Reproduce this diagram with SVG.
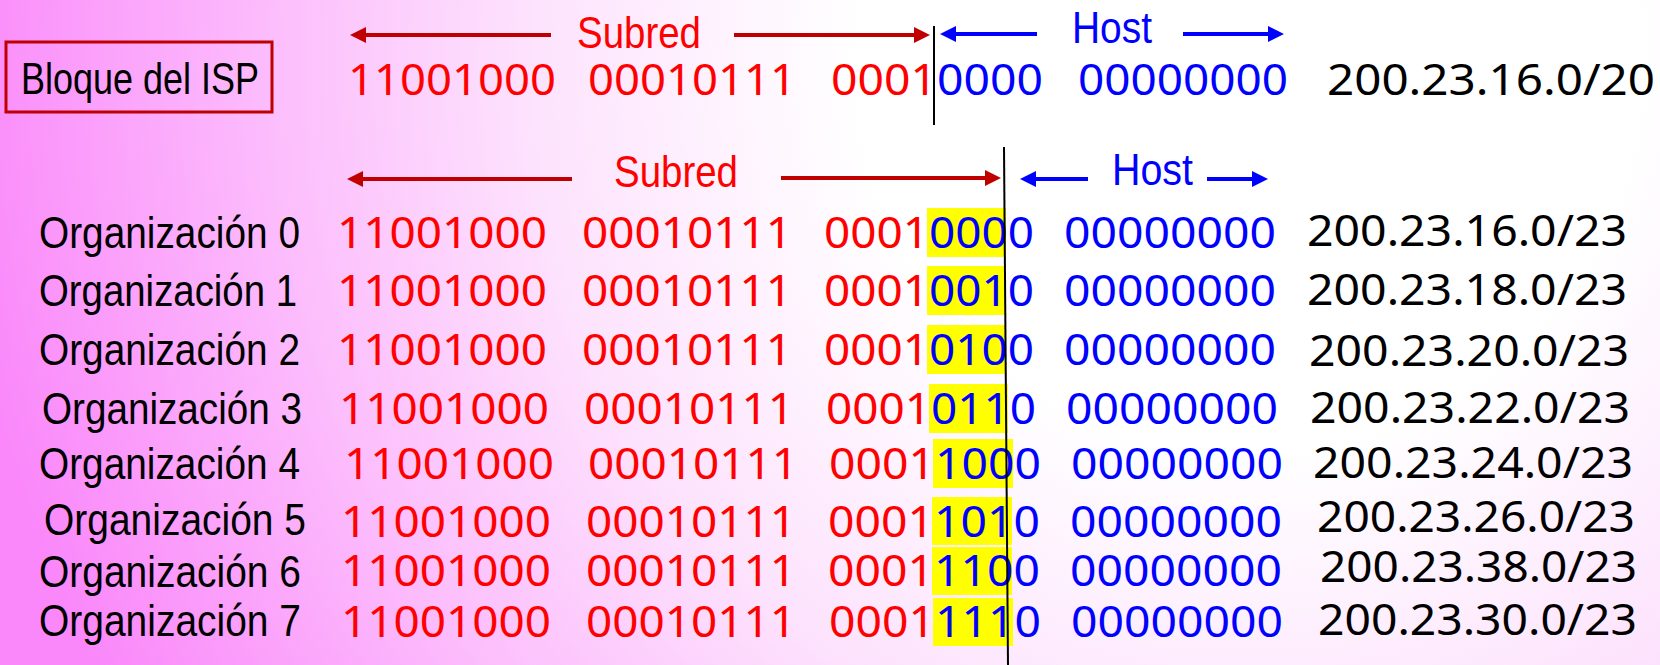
<svg xmlns="http://www.w3.org/2000/svg" width="1660" height="665" viewBox="0 0 1660 665">
<style>
.lbl{font-family:"Liberation Sans",Arial,sans-serif;font-size:45px;fill:#000}
.hdr{font-family:"Liberation Sans",Arial,sans-serif;font-size:45px}
.bin{font-family:"Noto Sans","Open Sans",sans-serif;font-size:43px}
.ip{font-family:"Noto Sans","Open Sans",sans-serif;font-size:43px;fill:#000}
.r{fill:#ff0000}.b{fill:#0000ff}
.hl{fill:#ffff00}
.ra{stroke:#c00000;stroke-width:4;fill:none}
.ba{stroke:#0000ff;stroke-width:4;fill:none}
.sep{stroke:#000;stroke-width:2}
</style>
<defs>
<radialGradient id="bg" gradientUnits="userSpaceOnUse" cx="1250" cy="60" r="1300">
<stop offset="0" stop-color="#ffffff"/>
<stop offset="0.3" stop-color="#ffffff"/>
<stop offset="0.55" stop-color="#fde3fd"/>
<stop offset="0.75" stop-color="#fcbefc"/>
<stop offset="1" stop-color="#fa88fa"/>
</radialGradient>
<marker id="mr" markerUnits="userSpaceOnUse" markerWidth="18" markerHeight="16" refX="2" refY="8" orient="auto"><path d="M0,0 L16,8 L0,16 z" fill="#c00000"/></marker>
<marker id="mb" markerUnits="userSpaceOnUse" markerWidth="18" markerHeight="16" refX="2" refY="8" orient="auto"><path d="M0,0 L16,8 L0,16 z" fill="#0000ff"/></marker>
</defs>
<rect width="1660" height="665" fill="url(#bg)"/>

<g id="isp-block">
<rect x="6" y="42" width="266" height="70" fill="none" stroke="#c00000" stroke-width="3"/>
<text class="lbl" x="21" y="94" font-size="43" textLength="238" lengthAdjust="spacingAndGlyphs">Bloque del ISP</text>
</g>

<g id="top-header">
<text class="hdr r" x="577" y="48" textLength="124" lengthAdjust="spacingAndGlyphs">Subred</text>
<text class="hdr b" x="1072" y="43" textLength="80" lengthAdjust="spacingAndGlyphs">Host</text>
</g>

<g id="top-row">
<text class="bin r" x="348" y="95" textLength="208" lengthAdjust="spacingAndGlyphs">11001000</text>
<text class="bin r" x="588" y="95" textLength="208" lengthAdjust="spacingAndGlyphs">00010111</text>
<text class="bin" x="831" y="95" textLength="212" lengthAdjust="spacingAndGlyphs"><tspan class="r">0001</tspan><tspan class="b">0000</tspan></text>
<text class="bin b" x="1078" y="95" textLength="210" lengthAdjust="spacingAndGlyphs">00000000</text>
<text class="ip" x="1327" y="95" textLength="328" lengthAdjust="spacingAndGlyphs">200.23.16.0/20</text>
</g>

<g id="bottom-header">
<text class="hdr r" x="614" y="187" textLength="124" lengthAdjust="spacingAndGlyphs">Subred</text>
<text class="hdr b" x="1112" y="185" textLength="81" lengthAdjust="spacingAndGlyphs">Host</text>
</g>

<g id="highlights">
<rect class="hl" x="927" y="208" width="79" height="49"/>
<rect class="hl" x="927" y="266" width="79" height="49"/>
<rect class="hl" x="927" y="325" width="79" height="49"/>
<rect class="hl" x="929" y="384" width="79" height="49"/>
<rect class="hl" x="933" y="439" width="80" height="49"/>
<rect class="hl" x="932" y="497" width="80" height="48"/>
<rect class="hl" x="932" y="547" width="80" height="48"/>
<rect class="hl" x="933" y="598" width="80" height="48"/>
</g>

<g id="org0">
<text class="lbl" x="39" y="248" textLength="261" lengthAdjust="spacingAndGlyphs">Organización 0</text>
<text class="bin r" x="337" y="248" textLength="210" lengthAdjust="spacingAndGlyphs">11001000</text>
<text class="bin r" x="582" y="248" textLength="210" lengthAdjust="spacingAndGlyphs">00010111</text>
<text class="bin" x="824" y="248" textLength="210" lengthAdjust="spacingAndGlyphs"><tspan class="r">0001</tspan><tspan class="b">0000</tspan></text>
<text class="bin b" x="1064" y="248" textLength="212" lengthAdjust="spacingAndGlyphs">00000000</text>
<text class="ip" x="1307" y="246" textLength="320" lengthAdjust="spacingAndGlyphs">200.23.16.0/23</text>
</g>
<g id="org1">
<text class="lbl" x="39" y="306" textLength="258" lengthAdjust="spacingAndGlyphs">Organización 1</text>
<text class="bin r" x="337" y="306" textLength="210" lengthAdjust="spacingAndGlyphs">11001000</text>
<text class="bin r" x="582" y="306" textLength="210" lengthAdjust="spacingAndGlyphs">00010111</text>
<text class="bin" x="824" y="306" textLength="210" lengthAdjust="spacingAndGlyphs"><tspan class="r">0001</tspan><tspan class="b">0010</tspan></text>
<text class="bin b" x="1064" y="306" textLength="212" lengthAdjust="spacingAndGlyphs">00000000</text>
<text class="ip" x="1307" y="305" textLength="320" lengthAdjust="spacingAndGlyphs">200.23.18.0/23</text>
</g>
<g id="org2">
<text class="lbl" x="39" y="365" textLength="261" lengthAdjust="spacingAndGlyphs">Organización 2</text>
<text class="bin r" x="337" y="365" textLength="210" lengthAdjust="spacingAndGlyphs">11001000</text>
<text class="bin r" x="582" y="365" textLength="210" lengthAdjust="spacingAndGlyphs">00010111</text>
<text class="bin" x="824" y="365" textLength="210" lengthAdjust="spacingAndGlyphs"><tspan class="r">0001</tspan><tspan class="b">0100</tspan></text>
<text class="bin b" x="1064" y="365" textLength="212" lengthAdjust="spacingAndGlyphs">00000000</text>
<text class="ip" x="1309" y="366" textLength="320" lengthAdjust="spacingAndGlyphs">200.23.20.0/23</text>
</g>
<g id="org3">
<text class="lbl" x="42" y="424" textLength="260" lengthAdjust="spacingAndGlyphs">Organización 3</text>
<text class="bin r" x="339" y="424" textLength="210" lengthAdjust="spacingAndGlyphs">11001000</text>
<text class="bin r" x="584" y="424" textLength="210" lengthAdjust="spacingAndGlyphs">00010111</text>
<text class="bin" x="826" y="424" textLength="210" lengthAdjust="spacingAndGlyphs"><tspan class="r">0001</tspan><tspan class="b">0110</tspan></text>
<text class="bin b" x="1066" y="424" textLength="212" lengthAdjust="spacingAndGlyphs">00000000</text>
<text class="ip" x="1310" y="423" textLength="320" lengthAdjust="spacingAndGlyphs">200.23.22.0/23</text>
</g>
<g id="org4">
<text class="lbl" x="39" y="479" textLength="261" lengthAdjust="spacingAndGlyphs">Organización 4</text>
<text class="bin r" x="344" y="479" textLength="210" lengthAdjust="spacingAndGlyphs">11001000</text>
<text class="bin r" x="588" y="479" textLength="210" lengthAdjust="spacingAndGlyphs">00010111</text>
<text class="bin" x="829" y="479" textLength="212" lengthAdjust="spacingAndGlyphs"><tspan class="r">0001</tspan><tspan class="b">1000</tspan></text>
<text class="bin b" x="1071" y="479" textLength="212" lengthAdjust="spacingAndGlyphs">00000000</text>
<text class="ip" x="1313" y="478" textLength="320" lengthAdjust="spacingAndGlyphs">200.23.24.0/23</text>
</g>
<g id="org5">
<text class="lbl" x="44" y="535" textLength="262" lengthAdjust="spacingAndGlyphs">Organización 5</text>
<text class="bin r" x="341" y="537" textLength="210" lengthAdjust="spacingAndGlyphs">11001000</text>
<text class="bin r" x="586" y="537" textLength="210" lengthAdjust="spacingAndGlyphs">00010111</text>
<text class="bin" x="828" y="537" textLength="212" lengthAdjust="spacingAndGlyphs"><tspan class="r">0001</tspan><tspan class="b">1010</tspan></text>
<text class="bin b" x="1070" y="537" textLength="212" lengthAdjust="spacingAndGlyphs">00000000</text>
<text class="ip" x="1317" y="532" textLength="318" lengthAdjust="spacingAndGlyphs">200.23.26.0/23</text>
</g>
<g id="org6">
<text class="lbl" x="39" y="587" textLength="262" lengthAdjust="spacingAndGlyphs">Organización 6</text>
<text class="bin r" x="341" y="586" textLength="210" lengthAdjust="spacingAndGlyphs">11001000</text>
<text class="bin r" x="586" y="586" textLength="210" lengthAdjust="spacingAndGlyphs">00010111</text>
<text class="bin" x="828" y="586" textLength="212" lengthAdjust="spacingAndGlyphs"><tspan class="r">0001</tspan><tspan class="b">1100</tspan></text>
<text class="bin b" x="1070" y="586" textLength="212" lengthAdjust="spacingAndGlyphs">00000000</text>
<text class="ip" x="1320" y="582" textLength="317" lengthAdjust="spacingAndGlyphs">200.23.38.0/23</text>
</g>
<g id="org7">
<text class="lbl" x="39" y="636" textLength="262" lengthAdjust="spacingAndGlyphs">Organización 7</text>
<text class="bin r" x="341" y="637" textLength="210" lengthAdjust="spacingAndGlyphs">11001000</text>
<text class="bin r" x="586" y="637" textLength="210" lengthAdjust="spacingAndGlyphs">00010111</text>
<text class="bin" x="829" y="637" textLength="212" lengthAdjust="spacingAndGlyphs"><tspan class="r">0001</tspan><tspan class="b">1110</tspan></text>
<text class="bin b" x="1071" y="637" textLength="212" lengthAdjust="spacingAndGlyphs">00000000</text>
<text class="ip" x="1318" y="635" textLength="319" lengthAdjust="spacingAndGlyphs">200.23.30.0/23</text>
</g>

<g id="connectors">
<line class="sep" x1="934" y1="26" x2="934" y2="125"/>
<line class="sep" x1="1004" y1="147" x2="1008" y2="665"/>
<line class="ra" x1="551" y1="35" x2="364" y2="35" marker-end="url(#mr)"/>
<line class="ra" x1="734" y1="35" x2="916" y2="35" marker-end="url(#mr)"/>
<line class="ba" x1="1037" y1="34" x2="954" y2="34" marker-end="url(#mb)"/>
<line class="ba" x1="1183" y1="34" x2="1270" y2="34" marker-end="url(#mb)"/>
<line class="ra" x1="572" y1="179" x2="361" y2="179" marker-end="url(#mr)"/>
<line class="ra" x1="781" y1="178" x2="987" y2="178" marker-end="url(#mr)"/>
<line class="ba" x1="1088" y1="179" x2="1034" y2="179" marker-end="url(#mb)"/>
<line class="ba" x1="1207" y1="179" x2="1254" y2="179" marker-end="url(#mb)"/>
</g>
</svg>
